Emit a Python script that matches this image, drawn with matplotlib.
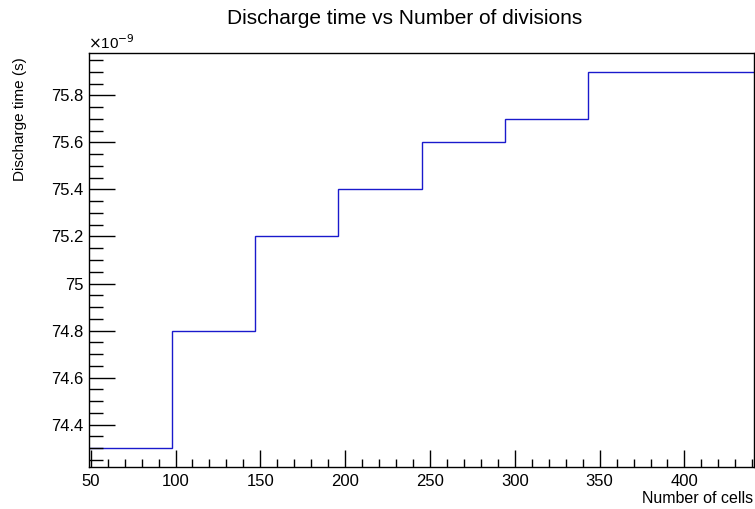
import numpy as np
import matplotlib
matplotlib.use('Agg')
import matplotlib.pyplot as plt
from matplotlib.ticker import MultipleLocator, FuncFormatter

plt.rcParams['font.family'] = ['Liberation Sans', 'DejaVu Sans']

# bin edges (number of cells) and discharge time per bin, in units of 1e-9 s
edges = [49, 98, 147, 196, 245, 294, 343, 392, 441]
times = [74.3, 74.8, 75.2, 75.4, 75.6, 75.7, 75.9, 75.9]

title = 'Discharge time vs Number of divisions'
xlabel = 'Number of cells'
ylabel = 'Discharge time (s)'

width, height = 755, 509
dpi = 100
fig = plt.figure(figsize=(width/dpi, height/dpi), dpi=dpi)
ax = fig.add_axes([89/width, 1 - 467/height, (754 - 89)/width, (467 - 53)/height])

ax.stairs(times, edges, baseline=None, color='#1a1acc', linewidth=1.0)

lo, hi = min(times), max(times)
pad = 0.05 * (hi - lo)
ax.set_xlim(edges[0], edges[-1])
ax.set_ylim(lo - pad, hi + pad)

ax.xaxis.set_major_locator(MultipleLocator(50))
ax.xaxis.set_minor_locator(MultipleLocator(10))
ax.yaxis.set_major_locator(MultipleLocator(0.2))
ax.yaxis.set_minor_locator(MultipleLocator(0.05))
ax.yaxis.set_major_formatter(FuncFormatter(lambda v, p: '%g' % round(v, 3)))

ax.tick_params(which='both', direction='in', top=False, right=False, labelsize=12, width=1)
ax.tick_params(axis='x', which='major', length=12, pad=5)
ax.tick_params(axis='x', which='minor', length=6)
ax.tick_params(axis='y', which='major', length=19, pad=4)
ax.tick_params(axis='y', which='minor', length=10)
for s in ax.spines.values():
    s.set_linewidth(1)

ax.text(-0.002, 1.003, r'$\times$10$^{-9}$', transform=ax.transAxes, ha='left', va='bottom', fontsize=11)

fig.text(405/width, 1 - 18/height, title, ha='center', va='center', fontsize=15)
fig.text(753/width, 1 - 503/height, xlabel, ha='right', va='baseline', fontsize=11.5)
fig.text(20/width, 1 - 57/height, ylabel, ha='center', va='top', rotation=90, fontsize=11)

fig.savefig('out.png', dpi=dpi)
